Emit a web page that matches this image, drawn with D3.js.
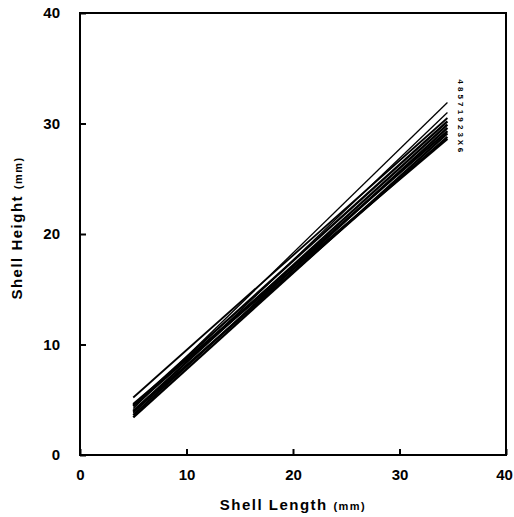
<!DOCTYPE html>
<html>
<head>
<meta charset="utf-8">
<script src="https://cdn.jsdelivr.net/npm/d3@7"></script>
<style>
  body { margin: 0; background: #fff; }
  text { font-family: "Liberation Sans", Arial, sans-serif; font-weight: bold; fill: #000; }
</style>
</head>
<body>
<div id="chart"></div>
<script>
const width = 514;
const height = 517;

// regression lines: shell height at start and end length
const startLength = 5;
const endLength = 34.5;
const lineLabels = ["4", "8", "5", "7", "1", "9", "2", "3", "X", "6"];
const startHeights = [4.2, 3.8, 5.2, 4.5, 4.0, 3.6, 4.4, 3.4, 3.9, 4.6];
const endHeights = [31.9, 31.0, 30.5, 30.2, 29.9, 29.6, 29.3, 29.1, 28.8, 28.6];
const lineWidths = [1.3, 1.3, 1.8, 2.3, 2.3, 2.3, 2.3, 2.3, 2.3, 2.3];

const xTicks = [0, 10, 20, 30, 40];
const yTicks = [0, 10, 20, 30, 40];

const margin = { left: 80, right: 8, top: 13, bottom: 62 };

const svg = d3.select('#chart')
  .append('svg')
  .attr('width', width)
  .attr('height', height)

const x = d3.scaleLinear()
  .domain([0, 40])
  .range([margin.left, width - margin.right])

const y = d3.scaleLinear()
  .domain([0, 40])
  .range([height - margin.bottom, margin.top])

// frame
svg.append('rect')
  .attr('x', x(0))
  .attr('y', y(40))
  .attr('width', x(40) - x(0))
  .attr('height', y(0) - y(40))
  .attr('fill', 'none')
  .attr('stroke', '#000')
  .attr('stroke-width', 2)

const xAxis = d3.axisBottom(x)
  .tickValues(xTicks)
  .tickSizeInner(-6)
  .tickSizeOuter(0)
  .tickPadding(14)

const yAxis = d3.axisLeft(y)
  .tickValues(yTicks)
  .tickSizeInner(-6)
  .tickSizeOuter(0)
  .tickPadding(20)

const gx = svg.append('g')
  .attr('transform', `translate(0, ${y(0)})`)
  .call(xAxis)

const gy = svg.append('g')
  .attr('transform', `translate(${x(0)}, 0)`)
  .call(yAxis)

for (const g of [gx, gy]) {
  g.select('.domain').remove()
  g.selectAll('.tick line').attr('stroke', '#000').attr('stroke-width', 2)
  g.selectAll('.tick text').style('font-size', '15px')
}
// keep the last x label inside the page
gx.selectAll('.tick text').filter((d) => d === 40).attr('dx', -2)

// lines
svg.append('g')
  .selectAll('line')
  .data(startHeights)
  .enter()
  .append('line')
  .attr('x1', x(startLength))
  .attr('y1', (d) => y(d))
  .attr('x2', x(endLength))
  .attr('y2', (d, i) => y(endHeights[i]))
  .attr('stroke', '#000')
  .attr('stroke-width', (d, i) => lineWidths[i])

// labels stacked beside the line ends
svg.append('g')
  .selectAll('text')
  .data(lineLabels)
  .enter()
  .append('text')
  .attr('transform', (d, i) => `translate(${x(35.8)}, ${y(33.8) + i * 7.6}) rotate(90)`)
  .attr('text-anchor', 'middle')
  .attr('dy', '0.35em')
  .style('font-size', '8px')
  .text((d) => d)

// axis titles
const xt = svg.append('text')
  .attr('x', x(20))
  .attr('y', 510)
  .attr('text-anchor', 'middle')
  .style('font-size', '15px')
  .style('letter-spacing', '1.5px')
xt.append('tspan').text('Shell Length ')
xt.append('tspan').style('font-size', '11px').text('(mm)')

const yt = svg.append('text')
  .attr('transform', `translate(22, ${y(20) - 6}) rotate(-90)`)
  .attr('text-anchor', 'middle')
  .style('font-size', '15px')
  .style('letter-spacing', '1.5px')
yt.append('tspan').text('Shell Height ')
yt.append('tspan').style('font-size', '11px').text('(mm)')
</script>
</body>
</html>
